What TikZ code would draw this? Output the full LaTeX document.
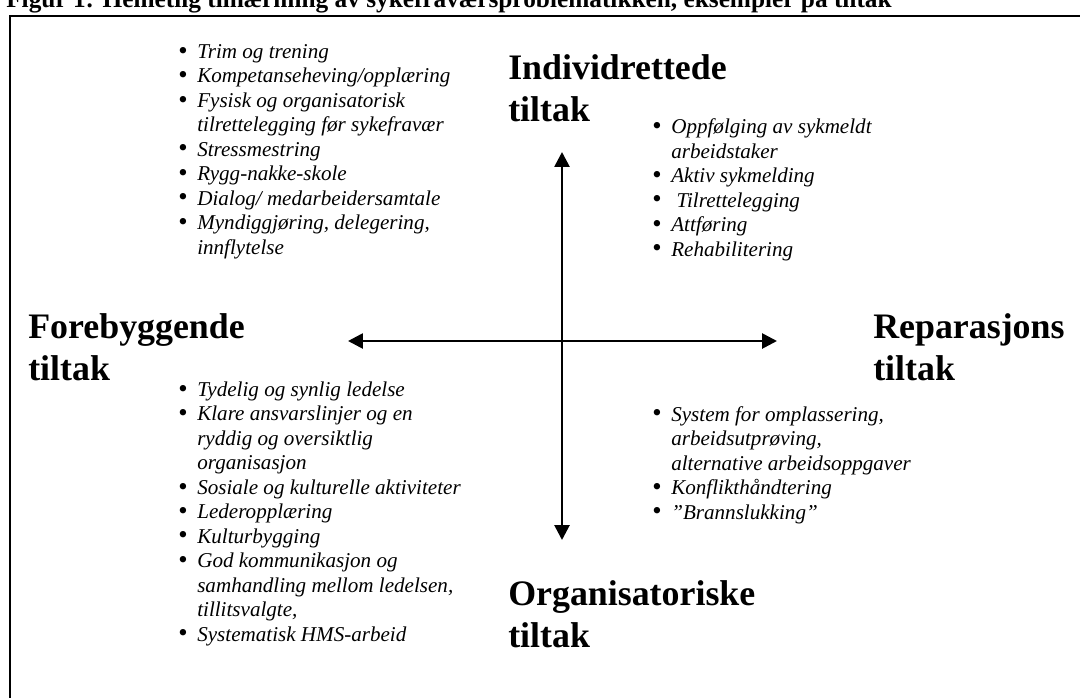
\documentclass[tikz,border=0pt]{standalone}
\usepackage{fontspec}
\setmainfont{Liberation Serif}
\usetikzlibrary{arrows.meta}
\newcommand{\itm}{\makebox[0.475cm][l]{\upshape\raisebox{-0.04em}{\fontsize{19}{0}\selectfont\textbullet}}}
\newcommand{\cnt}{\hspace*{0.475cm}}
\tikzset{
  head/.style={anchor=base west,align=left,inner sep=0pt,font=\bfseries\fontsize{25.5}{29.2}\selectfont},
  items/.style={anchor=base west,align=left,inner sep=0pt,font=\itshape\fontsize{15}{17.4}\selectfont},
  axis/.style={{Triangle[length=0.37cm,width=0.37cm]}-{Triangle[length=0.37cm,width=0.37cm]},line width=1.9pt},
}
\begin{document}
\begin{tikzpicture}[x=0.025cm,y=-0.025cm]
  \useasboundingbox (0,0) rectangle (1080,698);
  \clip (0,0) rectangle (1080,698);
  % caption, cut off by the page
  \node[anchor=base west,inner sep=0pt,font=\bfseries\fontsize{18}{21}\selectfont] (title) at (6,7)
    {Figur 1: Helhetlig tilnærming av sykefraværsproblematikken, eksempler på tiltak};
  \draw[line width=1pt] (10,760) |- (1140,16);
  % axes
  \coordinate (top) at (562,152);
  \coordinate (bot) at (562,540);
  \coordinate (lft) at (348,341);
  \coordinate (rgt) at (777,341);
  \draw[axis] (bot) -- (top);
  \draw[axis] (lft) -- (rgt);
  % headings (placed by the baseline of the last line)
  \node[head] (indiv) at (508,121) {Individrettede\\tiltak};
  \node[head] (fore) at (28,380) {Forebyggende\\tiltak};
  \node[head] (rep) at (873,380) {Reparasjons\\tiltak};
  \node[head] (org) at (508,647) {Organisatoriske\\tiltak};
  % lists (placed by the baseline of the last line)
  \node[items] (forind) at (178,254) {\itm Trim og trening\\
    \itm Kompetanseheving/opplæring\\
    \itm Fysisk og organisatorisk\\
    \cnt tilrettelegging før sykefravær\\
    \itm Stressmestring\\
    \itm Rygg-nakke-skole\\
    \itm Dialog/ medarbeidersamtale\\
    \itm Myndiggjøring, delegering,\\
    \cnt innflytelse};
  \node[items] (repind) at (652,256) {\itm Oppfølging av sykmeldt\\
    \cnt arbeidstaker\\
    \itm Aktiv sykmelding\\
    \itm\hspace{0.25em}Tilrettelegging\\
    \itm Attføring\\
    \itm Rehabilitering};
  \node[items] (fororg) at (178,641) {\itm Tydelig og synlig ledelse\\
    \itm Klare ansvarslinjer og en\\
    \cnt ryddig og oversiktlig\\
    \cnt organisasjon\\
    \itm Sosiale og kulturelle aktiviteter\\
    \itm Lederopplæring\\
    \itm Kulturbygging\\
    \itm God kommunikasjon og\\
    \cnt samhandling mellom ledelsen,\\
    \cnt tillitsvalgte,\\
    \itm Systematisk HMS-arbeid};
  \node[items] (reporg) at (652,519) {\itm System for omplassering,\\
    \cnt arbeidsutprøving,\\
    \cnt alternative arbeidsoppgaver\\
    \itm Konflikthåndtering\\
    \itm ”Brannslukking”};
\end{tikzpicture}
\end{document}
